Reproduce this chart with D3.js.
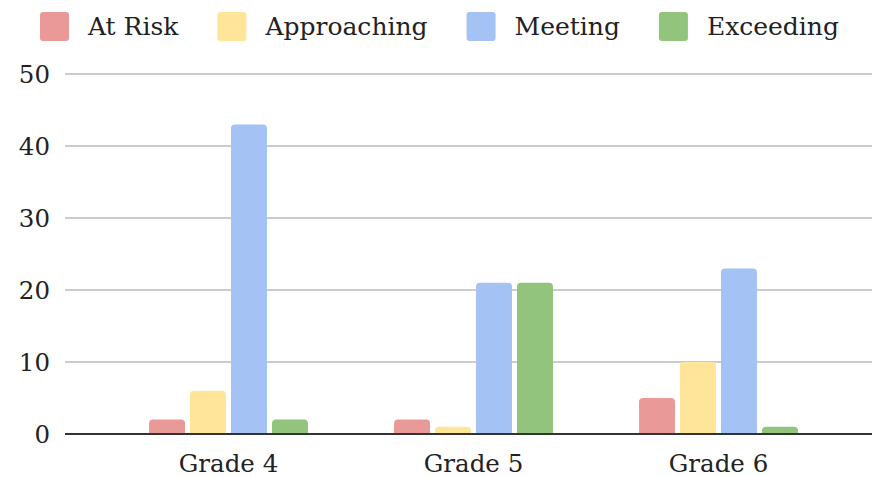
<!DOCTYPE html>
<html>
<head>
<meta charset="utf-8">
<script src="https://cdn.jsdelivr.net/npm/d3@7"></script>
<style>
  html, body { margin: 0; padding: 0; background: #fff; }
  svg { display: block; }
  text { font-family: "DejaVu Serif", "Liberation Serif", serif; fill: #222; }
</style>
</head>
<body>
<svg id="chart" width="872" height="477"></svg>
<script>
// Student counts by performance level per grade
const grades = ["Grade 4", "Grade 5", "Grade 6"];
const levels = ["At Risk", "Approaching", "Meeting", "Exceeding"];
const atRisk = [2, 2, 5];
const approaching = [6, 1, 10];
const meeting = [43, 21, 23];
const exceeding = [2, 21, 1];
const yTicks = [0, 10, 20, 30, 40, 50];
const colors = ["#ea9999", "#ffe599", "#a4c2f4", "#93c47d"];

const seriesValues = [atRisk, approaching, meeting, exceeding];

const plot = { left: 65, right: 872, top: 74, bottom: 434 };

const svg = d3.select("#chart");

const y = d3.scaleLinear().domain([0, 50]).range([plot.bottom, plot.top]);
const x0 = d3.scaleBand().domain(grades).range([106, 841]).paddingInner(0).paddingOuter(0);
const x1 = d3.scaleBand().domain(levels).range([0, x0.bandwidth()]).paddingInner(0.122).paddingOuter(1.05);

// Gridlines
svg.append("g").selectAll("line")
  .data(yTicks.filter(d => d !== 0))
  .join("line")
  .attr("x1", plot.left).attr("x2", plot.right)
  .attr("y1", d => y(d)).attr("y2", d => y(d))
  .attr("stroke", "#cccccc").attr("stroke-width", 2);

// Y tick labels
const yAxis = d3.axisLeft(y).tickValues(yTicks).tickSize(0).tickPadding(0);
const gy = svg.append("g").attr("transform", "translate(50,0)").call(yAxis);
gy.select(".domain").remove();
gy.selectAll("text")
  .attr("font-size", 24.5)
  .attr("font-family", "DejaVu Serif, serif")
  .attr("fill", "#222")
  .attr("dy", "0.36em");

// Rounded-top bar path
function barPath(x, yTop, w, yBase, r) {
  const h = yBase - yTop;
  const rr = Math.min(r, h, w / 2);
  return `M${x},${yBase}V${yTop + rr}Q${x},${yTop} ${x + rr},${yTop}H${x + w - rr}Q${x + w},${yTop} ${x + w},${yTop + rr}V${yBase}Z`;
}

const barData = [];
grades.forEach((g, gi) => {
  levels.forEach((l, li) => {
    barData.push({ grade: g, level: l, value: seriesValues[li][gi], color: colors[li] });
  });
});

svg.append("g").selectAll("path")
  .data(barData)
  .join("path")
  .attr("d", d => barPath(x0(d.grade) + x1(d.level), y(d.value), x1.bandwidth(), y(0), 4))
  .attr("fill", d => d.color);

// Baseline
svg.append("line")
  .attr("x1", plot.left).attr("x2", plot.right)
  .attr("y1", y(0)).attr("y2", y(0))
  .attr("stroke", "#333").attr("stroke-width", 2);

// X axis labels
const xAxis = d3.axisBottom(x0).tickSize(0).tickPadding(0);
const gx = svg.append("g").attr("transform", `translate(0,${y(0)})`).call(xAxis);
gx.select(".domain").remove();
gx.selectAll("text")
  .attr("font-size", 24.5)
  .attr("font-family", "DejaVu Serif, serif")
  .attr("fill", "#222")
  .attr("y", 38)
  .attr("dy", 0);

// Legend: swatch, label, then the next item
const legend = svg.append("g");
const items = legend.selectAll("g").data(levels).join("g");
items.append("rect")
  .attr("width", 29).attr("height", 29).attr("rx", 3)
  .attr("y", 12)
  .attr("fill", (d, i) => colors[i]);
items.append("text")
  .attr("x", 48).attr("y", 35)
  .attr("font-size", 25)
  .text(d => d);
let cx = 40;
const offsets = [];
items.each(function() {
  const tw = d3.select(this).select("text").node().getComputedTextLength();
  offsets.push(cx);
  cx += 48 + tw + 39;
});
items.attr("transform", (d, i) => `translate(${offsets[i]},0)`);
</script>
</body>
</html>
